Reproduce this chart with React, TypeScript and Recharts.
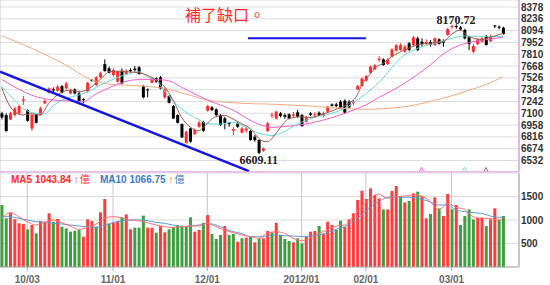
import React from 'react';
import {
  ComposedChart,
  Bar,
  Line,
  XAxis,
  YAxis,
  CartesianGrid,
  ReferenceLine,
  ReferenceDot,
  Cell
} from 'recharts';

// x axis: trading-day index, labels on the first day of each month
const tickIdx = [6, 26, 48, 70, 85, 105];
const tickLabels = ['10/03', '11/01', '12/01', '2012/01', '02/01', '03/01'];
const priceTicks = [6532, 6674, 6816, 6958, 7100, 7242, 7384, 7526, 7668, 7810, 7952, 8094, 8236, 8378];
const volTicks = [500, 1000, 1500];

// [open, high, low, close] per trading day
const ohlc: number[][] = [
  [7099, 7119, 7026, 7050], [7079, 7099, 6878, 6886], [7026, 7119, 7018, 7099], [7079, 7179, 7058, 7159],
  [7099, 7199, 7079, 7187], [7251, 7307, 7199, 7267], [7139, 7147, 6998, 7010], [6918, 7099, 6890, 7079],
  [7079, 7091, 6978, 6986], [7079, 7179, 7071, 7159], [7219, 7267, 7211, 7251], [7347, 7411, 7339, 7399],
  [7387, 7411, 7355, 7379], [7371, 7439, 7359, 7419], [7427, 7439, 7339, 7347], [7399, 7480, 7387, 7459],
  [7339, 7395, 7331, 7379], [7387, 7399, 7327, 7339], [7339, 7371, 7231, 7239], [7271, 7279, 7219, 7259],
  [7359, 7480, 7347, 7467], [7500, 7512, 7480, 7488], [7439, 7548, 7427, 7532], [7532, 7600, 7520, 7580],
  [7692, 7748, 7600, 7608], [7640, 7660, 7580, 7588], [7560, 7640, 7540, 7620], [7480, 7612, 7467, 7600],
  [7612, 7640, 7451, 7459], [7572, 7628, 7560, 7612], [7620, 7640, 7588, 7608], [7636, 7668, 7600, 7620],
  [7652, 7668, 7564, 7572], [7427, 7439, 7279, 7291], [7387, 7399, 7291, 7379], [7467, 7532, 7459, 7520],
  [7520, 7532, 7467, 7480], [7532, 7548, 7387, 7399], [7291, 7411, 7275, 7387], [7307, 7319, 7219, 7227],
  [7187, 7199, 7030, 7038], [7079, 7087, 6978, 6986], [6970, 6978, 6802, 6810], [6746, 6890, 6738, 6878],
  [6918, 6930, 6746, 6758], [6850, 6918, 6838, 6898], [6938, 7010, 6926, 6990], [6998, 7010, 6878, 6890],
  [7131, 7199, 7119, 7187], [7171, 7187, 7127, 7139], [7147, 7159, 7067, 7079], [7079, 7091, 6946, 6958],
  [7038, 7058, 6906, 6986], [6986, 6998, 6938, 6970], [6890, 6938, 6838, 6910], [6978, 6998, 6926, 6938],
  [6866, 6938, 6858, 6918], [6890, 6938, 6866, 6918], [6886, 6898, 6770, 6778], [6818, 6838, 6758, 6778],
  [6778, 6786, 6609.11, 6625], [6649, 6689, 6637, 6677], [6886, 6998, 6874, 6978], [7075, 7107, 7042, 7083],
  [7038, 7131, 7026, 7119], [7099, 7115, 7050, 7067], [7079, 7099, 7034, 7058], [7087, 7099, 7026, 7038],
  [7071, 7115, 7050, 7087], [7111, 7139, 7050, 7058], [7079, 7091, 6938, 6946], [6998, 7067, 6986, 7050],
  [7099, 7115, 7067, 7083], [7079, 7115, 7050, 7087], [7107, 7123, 7067, 7079], [7067, 7119, 7050, 7099],
  [7119, 7191, 7111, 7179], [7207, 7219, 7179, 7191], [7207, 7227, 7171, 7187], [7239, 7259, 7159, 7171],
  [7251, 7267, 7091, 7107], [7239, 7259, 7155, 7171], [7219, 7259, 7195, 7235], [7387, 7439, 7379, 7427],
  [7427, 7532, 7419, 7516], [7492, 7560, 7480, 7548], [7588, 7676, 7580, 7660], [7628, 7692, 7620, 7676],
  [7740, 7788, 7716, 7756], [7748, 7760, 7672, 7680], [7692, 7760, 7680, 7748], [7780, 7881, 7772, 7869],
  [7853, 7933, 7840, 7917], [7861, 7941, 7853, 7921], [7840, 7921, 7828, 7901], [7941, 7957, 7848, 7861],
  [7921, 8029, 7909, 8013], [8001, 8021, 7848, 7861], [7961, 8001, 7901, 7933], [7949, 7989, 7921, 7957],
  [7957, 7981, 7901, 7921], [7921, 8013, 7909, 8001], [7989, 8001, 7925, 7933], [7965, 7989, 7901, 7949],
  [8041, 8125, 8033, 8113], [8141, 8165, 8117, 8149], [8149, 8170.72, 8117, 8141], [8133, 8149, 8093, 8109],
  [8101, 8117, 7989, 8001], [8013, 8029, 7861, 7933], [7840, 7933, 7820, 7909], [7933, 8001, 7921, 7989],
  [7961, 8021, 7949, 8001], [8029, 8041, 7913, 7921], [7969, 8045, 7957, 8029], [8157, 8161, 8125, 8149],
  [8141, 8157, 8109, 8133], [8129, 8141, 8045, 8053]
];

// 成交量 (億)
const volume = [
  1319, 1035, 1156, 1014, 929, 915, 801, 893, 716, 978,
  964, 1142, 964, 1021, 858, 823, 752, 773, 787, 645,
  1014, 978, 858, 1163, 1446, 918, 950, 978, 1057, 1120,
  801, 837, 837, 1092, 837, 837, 730, 872, 737, 801,
  850, 893, 879, 865, 1057, 751, 787, 943, 1106, 702,
  596, 681, 872, 681, 702, 539, 610, 624, 645, 525,
  610, 610, 766, 737, 943, 681, 596, 553, 525, 610,
  503, 645, 751, 766, 872, 702, 964, 893, 787, 986,
  850, 1014, 1142, 1425, 1624, 1446, 1673, 1531, 1460, 1227,
  1227, 1617, 1723, 1496, 1375, 1404, 1567, 1602, 1510, 1035,
  1127, 1482, 1248, 1085, 1553, 1227, 1319, 893, 1085, 1227,
  1014, 1049, 1049, 872, 1014, 1248, 1000, 1085
];
// R = red bar, G = green bar
const volColor = (
  'GGRRRRGRGR' + 'RRGRGGGGGR' + 'RRGRRGRRGR' + 'RGGGRRGRRG' + 'GGGGGRRGRG' +
  'GGRGGRGRGR' + 'GRRGRGGGRG' + 'GRRRGRRRGG' + 'RRRRRRRRRG' + 'RRRGRGRGRR' +
  'GRGRRGRGGG' + 'GRRGRRGG'
).split('');

// moving averages: [day index, value]
const ma5Pts = [
  [0, 7411], [2, 7180], [4, 7090], [5, 7079], [7, 7095], [9, 7079], [11, 7219], [13, 7319], [16, 7379],
  [18, 7359], [20, 7385], [22, 7460], [24, 7555], [25, 7600], [27, 7605], [29, 7600], [32, 7588], [36, 7500],
  [38, 7420], [40, 7259], [42, 7050], [44, 6935], [46, 6890], [47, 6930], [50, 7060], [52, 7075], [54, 7030],
  [56, 6975], [58, 6918], [60, 6800], [61, 6765], [62, 6758], [64, 6858], [66, 6990], [67, 7038], [70, 7058],
  [72, 7050], [75, 7091], [78, 7147], [81, 7219], [83, 7320], [84, 7439], [86, 7570], [87, 7640], [89, 7700],
  [91, 7780], [94, 7861], [97, 7921], [101, 7949], [103, 7961], [105, 8050], [107, 8101], [109, 8021],
  [112, 7989], [114, 8013], [117, 8061]
];
const ma10Pts = [
  [0, 7427], [3, 7259], [5, 7159], [8, 7099], [10, 7091], [12, 7187], [15, 7279], [18, 7319], [21, 7379],
  [23, 7439], [26, 7508], [29, 7565], [32, 7600], [34, 7540], [36, 7500], [38, 7370], [40, 7250], [42, 7150],
  [44, 7079], [46, 7025], [48, 6975], [51, 6970], [54, 6992], [57, 6930], [60, 6862], [63, 6832], [66, 6880],
  [69, 6970], [73, 7050], [77, 7099], [81, 7187], [83, 7260], [85, 7339], [88, 7467], [89, 7520], [91, 7650],
  [93, 7760], [95, 7830], [97, 7880], [101, 7940], [105, 8000], [108, 8029], [111, 8025], [114, 8020], [117, 8029]
];
const ma20Pts = [
  [0, 7508], [4, 7390], [8, 7300], [12, 7260], [16, 7247], [19, 7240], [22, 7330], [26, 7427], [30, 7495],
  [33, 7508], [38, 7500], [43, 7387], [48, 7259], [54, 7139], [59, 6990], [63, 6930], [67, 6946], [71, 6970],
  [75, 7018], [79, 7079], [82, 7139], [85, 7200], [88, 7290], [91, 7370], [94, 7460], [97, 7565], [100, 7680],
  [103, 7810], [106, 7900], [109, 7950], [113, 7985], [117, 8015]
];
const ma60Pts = [
  [0, 8033], [7, 7881], [15, 7680], [21, 7500], [25, 7451], [33, 7427], [38, 7399], [43, 7331], [48, 7259],
  [54, 7227], [64, 7207], [72, 7187], [79, 7159], [85, 7147], [89, 7155], [93, 7172], [97, 7205], [101, 7255],
  [105, 7310], [109, 7375], [113, 7445], [117, 7540]
];
const vma5Pts = [
  [0, 1035], [2, 1156], [4, 1070], [6, 964], [8, 893], [10, 943], [12, 1000], [14, 943], [16, 872], [18, 801],
  [20, 844], [22, 908], [24, 1035], [26, 1070], [28, 1049], [30, 1000], [32, 986], [34, 943], [36, 893],
  [38, 858], [40, 844], [42, 858], [44, 872], [46, 872], [48, 929], [50, 858], [52, 787], [54, 730], [56, 681],
  [58, 645], [60, 610], [62, 716], [64, 751], [66, 716], [68, 610], [70, 560], [72, 610], [74, 716], [76, 787],
  [78, 872], [80, 893], [82, 1070], [84, 1283], [86, 1460], [88, 1553], [90, 1460], [92, 1496], [94, 1510],
  [96, 1531], [98, 1510], [100, 1390], [102, 1212], [104, 1354], [106, 1269], [108, 1227], [110, 1070],
  [112, 1035], [114, 1035], [116, 1000], [117, 1044]
];
const vma10Pts = [
  [0, 1070], [2, 1070], [4, 1035], [6, 1000], [8, 964], [10, 950], [12, 929], [14, 915], [16, 893], [18, 872],
  [20, 858], [22, 844], [24, 893], [26, 943], [28, 986], [30, 1000], [32, 1000], [34, 986], [36, 950],
  [38, 929], [40, 893], [42, 858], [44, 872], [46, 893], [48, 929], [50, 893], [52, 822], [54, 751], [56, 716],
  [58, 645], [60, 645], [62, 660], [64, 681], [66, 666], [68, 660], [70, 645], [72, 660], [74, 681], [76, 730],
  [78, 801], [80, 858], [82, 964], [84, 1106], [86, 1269], [88, 1390], [90, 1482], [92, 1496], [94, 1482],
  [96, 1482], [98, 1439], [100, 1390], [102, 1319], [104, 1319], [106, 1212], [108, 1177], [110, 1156],
  [112, 1142], [114, 1085], [116, 1056], [117, 1067]
];

// little arrow marks under the price panel
const markIdx = [98, 108, 113];
const markColor = ['#ff66cc', '#66dddd', '#aa6666'];

const rows = ohlc.map((d, i) => ({ i, o: d[0], h: d[1], l: d[2], c: d[3] }));
const volRows = volume.map((v, i) => ({ i, v }));
const pts = (a: number[][]) => a.map(([i, v]) => ({ i, v }));

const xDomain = [-0.37, 120.72];
const axisFont = { fontSize: 10, fontWeight: 'bold', fill: '#333', fontFamily: 'Liberation Sans, Arial, sans-serif' };

const Candle = (props: any) => {
  const { x, y, width, height, payload } = props;
  const { o, h, l, c } = payload;
  const up = c >= o;
  const color = up ? '#ff2a2a' : '#000';
  const span = h - l || 1;
  const py = (v: number) => y + ((h - v) / span) * height;
  const cx = x + width / 2;
  const top = py(Math.max(o, c));
  const bot = py(Math.min(o, c));
  return (
    <g>
      <line x1={cx} x2={cx} y1={y} y2={y + height} stroke={color} strokeWidth={1} />
      <rect x={x} y={top} width={width} height={Math.max(1, bot - top)} fill={color} />
    </g>
  );
};

const Caret = (color: string) => (p: any) => (
  <polyline
    points={`${p.cx - 2},${p.cy + 2} ${p.cx},${p.cy - 2} ${p.cx + 2},${p.cy + 2}`}
    fill="none"
    stroke={color}
    strokeWidth={1}
  />
);

const maLine = (data: number[][], color: string, w = 1) => (
  <Line
    data={pts(data)}
    dataKey="v"
    type="monotone"
    stroke={color}
    strokeWidth={w}
    dot={false}
    activeDot={false}
    isAnimationActive={false}
    connectNulls
  />
);

const legendStyle: React.CSSProperties = {
  position: 'absolute',
  top: 173,
  fontSize: 10,
  lineHeight: '12px',
  fontWeight: 'bold',
  fontFamily: 'Liberation Sans, Arial, sans-serif',
  whiteSpace: 'nowrap'
};
const yi: React.CSSProperties = { fontWeight: 'normal', fontFamily: '"Noto Sans CJK TC"', marginLeft: 1 };

export default function App() {
  return (
    <div style={{ position: 'absolute', left: 0, top: 0, width: 550, height: 285, background: '#fff' }}>
      <div style={{ position: 'absolute', left: 0, top: 0 }}>
        <ComposedChart width={550} height={173} data={rows} margin={{ top: 0, right: 0, left: 0, bottom: 0 }}>
          <CartesianGrid vertical={false} stroke="#dcdcdc" />
          <CartesianGrid horizontal={false} stroke="#c8c8c8" />
          <XAxis
            type="number"
            dataKey="i"
            domain={xDomain}
            ticks={tickIdx}
            allowDataOverflow
            tick={false}
            tickLine={false}
            height={1}
            axisLine={{ stroke: '#ee88ee' }}
          />
          <YAxis
            orientation="right"
            domain={[6394, 8462]}
            ticks={priceTicks}
            interval={0}
            allowDataOverflow
            width={31}
            axisLine={{ stroke: '#ee88ee' }}
            tickLine={false}
            tickSize={0}
            tickMargin={2}
            tick={axisFont}
          />
          <Bar dataKey={(d: any) => [d.l, d.h]} barSize={3} isAnimationActive={false} shape={(p: any) => <Candle {...p} />} />
          {maLine(ma60Pts, '#f7a77a')}
          {maLine(ma20Pts, '#f060c8')}
          {maLine(ma10Pts, '#66d8d8')}
          {maLine(ma5Pts, '#a05a4a')}
          <ReferenceLine segment={[{ x: -0.37, y: 7599 }, { x: 57.7, y: 6405 }]} stroke="#1414e6" strokeWidth={2.5} />
          <ReferenceLine segment={[{ x: 57.5, y: 8001 }, { x: 85, y: 8001 }]} stroke="#1414e6" strokeWidth={2} />
          <ReferenceDot
            x={106}
            y={8170.72}
            r={0}
            fill="none"
            stroke="none"
            label={{ value: '8170.72', position: 'top', offset: 0, fill: '#222', fontSize: 12, fontWeight: 'bold', fontFamily: 'Liberation Serif, serif' }}
          />
          <ReferenceDot
            x={60}
            y={6609.11}
            r={0}
            fill="none"
            stroke="none"
            label={{ value: '6609.11', position: 'bottom', offset: 1, fill: '#222', fontSize: 12, fontWeight: 'bold', fontFamily: 'Liberation Serif, serif' }}
          />
          {markIdx.map((m, k) => (
            <ReferenceDot key={m} x={m} y={6425} shape={Caret(markColor[k])} />
          ))}
        </ComposedChart>
      </div>
      <div style={{ position: 'absolute', left: 0, top: 172 }}>
        <ComposedChart width={550} height={113} data={volRows} margin={{ top: 1, right: 0, left: 0, bottom: 0 }}>
          <CartesianGrid vertical={false} stroke="#dcdcdc" />
          <CartesianGrid horizontal={false} stroke="#c8c8c8" />
          <XAxis
            type="number"
            dataKey="i"
            domain={xDomain}
            ticks={tickIdx}
            interval={0}
            allowDataOverflow
            tickFormatter={(v: number) => tickLabels[tickIdx.indexOf(v)]}
            height={18}
            tickSize={4}
            tickMargin={5}
            axisLine={{ stroke: '#aaa' }}
            tickLine={{ stroke: '#aaa' }}
            tick={{ ...axisFont, fill: '#666' }}
          />
          <YAxis
            orientation="right"
            domain={[0, 2000]}
            ticks={volTicks}
            interval={0}
            allowDataOverflow
            width={31}
            axisLine={{ stroke: '#aaa' }}
            tickLine={false}
            tickSize={0}
            tickMargin={2}
            tick={axisFont}
          />
          <Bar dataKey="v" barSize={3} isAnimationActive={false}>
            {volRows.map((r) => (
              <Cell key={r.i} fill={volColor[r.i] === 'R' ? '#ff3b3b' : '#3f9f3f'} />
            ))}
          </Bar>
          {maLine(vma10Pts, '#5b9bd8')}
          {maLine(vma5Pts, '#ff7070')}
        </ComposedChart>
      </div>
      <div
        style={{
          position: 'absolute',
          left: 185,
          top: 6,
          fontSize: 16,
          lineHeight: '16px',
          color: '#ff2a2a',
          fontFamily: '"Noto Sans CJK TC", sans-serif'
        }}
      >
        補了缺口。
      </div>
      <div style={{ ...legendStyle, left: 11, color: '#ff2a2a' }}>
        MA5 1043.84 ↑<span style={yi}>億</span>
      </div>
      <div style={{ ...legendStyle, left: 100, color: '#3a7cc8' }}>
        MA10 1066.75 <span style={{ color: '#ff2a2a' }}>↑</span>
        <span style={yi}>億</span>
      </div>
    </div>
  );
}
